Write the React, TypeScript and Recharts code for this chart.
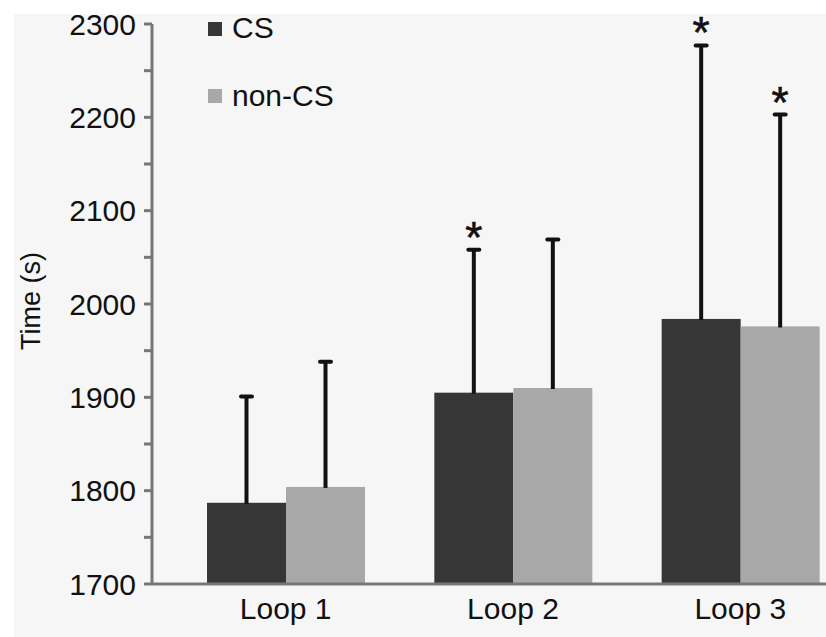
import React from 'react';
import { BarChart, Bar, XAxis, YAxis, Legend } from 'recharts';

const categories = ['Loop 1', 'Loop 2', 'Loop 3'];
const csValues = [1787, 1905, 1984];
const nonCsValues = [1804, 1910, 1976];
const csErrors = [114, 153, 293];
const nonCsErrors = [134, 159, 227];
const csSignificant = [false, true, true];
const nonCsSignificant = [false, false, true];
const yTicks = [1700, 1750, 1800, 1850, 1900, 1950, 2000, 2050, 2100, 2150, 2200, 2250, 2300];
const Y_MIN = 1700;
const Y_MAX = 2300;

const data = categories.map((name, i) => ({
  name,
  cs: csValues[i],
  nonCs: nonCsValues[i],
  csErr: csErrors[i],
  nonCsErr: nonCsErrors[i],
  csSig: csSignificant[i],
  nonCsSig: nonCsSignificant[i],
}));

const FONT = '"Liberation Sans", Arial, sans-serif';
const AXIS = '#767676';

function makeShape(valueKey: string, errKey: string, sigKey: string) {
  return (props: any) => {
    const { x, y, width, height, fill, payload } = props;
    const value = payload[valueKey];
    const k = height / (value - Y_MIN);
    const top = y - payload[errKey] * k;
    const cx = x + width / 2;
    return (
      <g>
        <rect x={x} y={y} width={width} height={height} fill={fill} />
        <line x1={cx} x2={cx} y1={y + 1} y2={top} stroke="#111" strokeWidth={4} />
        <line x1={cx - 5.5} x2={cx + 5.5} y1={top} y2={top} stroke="#111" strokeWidth={4} strokeLinecap="round" />
        {payload[sigKey] ? (
          <text x={cx} y={top + 3} textAnchor="middle" fontSize={44} fontFamily={FONT} fill="#111" stroke="#111" strokeWidth={0.6}>
            *
          </text>
        ) : null}
      </g>
    );
  };
}

const renderLegend = (props: any) => {
  const items = props.payload || [];
  return (
    <div style={{ position: 'relative', width: 200, height: 120, fontFamily: FONT }}>
      {items.map((it: any, i: number) => (
        <div key={it.value}>
          <div
            style={{
              position: 'absolute',
              left: 0,
              top: 22 + i * 67,
              width: 14,
              height: 14,
              background: it.color,
            }}
          />
          <div
            style={{
              position: 'absolute',
              left: 24,
              top: 12 + i * 68,
              fontSize: 30,
              lineHeight: '32px',
              color: '#111',
              whiteSpace: 'nowrap',
            }}
          >
            {it.value}
          </div>
        </div>
      ))}
    </div>
  );
};

const yLabel = () => {
  return (
    <text
      x={0}
      y={0}
      transform="translate(31, 301) rotate(-90)"
      textAnchor="middle"
      dominantBaseline="central"
      fontSize={27}
      fontFamily={FONT}
      fill="#111"
    >
      Time (s)
    </text>
  );
};

export default function App() {
  return (
    <div
      style={{
        position: 'absolute',
        left: 0,
        top: 0,
        width: 826,
        height: 637,
        overflow: 'hidden',
        background: '#ffffff',
      }}
    >
      <div
        style={{
          position: 'absolute',
          left: 14,
          top: 14,
          right: 0,
          bottom: 0,
          background: '#f6f6f6',
        }}
      />
      <div style={{ position: 'absolute', left: 0, top: 0 }}>
        <BarChart
          width={860}
          height={637}
          data={data}
          margin={{ top: 24, right: 6, bottom: 3, left: 72 }}
          barCategoryGap={35}
          barGap={0}
        >
          <XAxis
            dataKey="name"
            padding={{ left: 20, right: 0 }}
            tickLine={false}
            tickSize={0}
            tickMargin={14}
            height={50}
            axisLine={{ stroke: AXIS, strokeWidth: 3 }}
            tick={{ fontSize: 30, fontFamily: FONT, fill: '#111' }}
          />
          <YAxis
            domain={[Y_MIN, Y_MAX]}
            ticks={yTicks}
            interval={0}
            width={80}
            tickSize={8}
            tickMargin={8}
            tickFormatter={(v: number) => (v % 100 === 0 ? String(v) : '')}
            axisLine={{ stroke: AXIS, strokeWidth: 3 }}
            tickLine={{ stroke: AXIS, strokeWidth: 3 }}
            tick={{ fontSize: 30, fontFamily: FONT, fill: '#111' }}
            label={yLabel}
          />
          <Legend
            layout="vertical"
            align="center"
            verticalAlign="middle"
            content={renderLegend}
            wrapperStyle={{ position: 'absolute', left: 208, top: 0, width: 220, height: 120 }}
          />
          <Bar
            dataKey="cs"
            name="CS"
            fill="#363636"
            isAnimationActive={false}
            shape={makeShape('cs', 'csErr', 'csSig')}
          />
          <Bar
            dataKey="nonCs"
            name="non-CS"
            fill="#a8a8a8"
            isAnimationActive={false}
            shape={makeShape('nonCs', 'nonCsErr', 'nonCsSig')}
          />
        </BarChart>
      </div>
    </div>
  );
}
